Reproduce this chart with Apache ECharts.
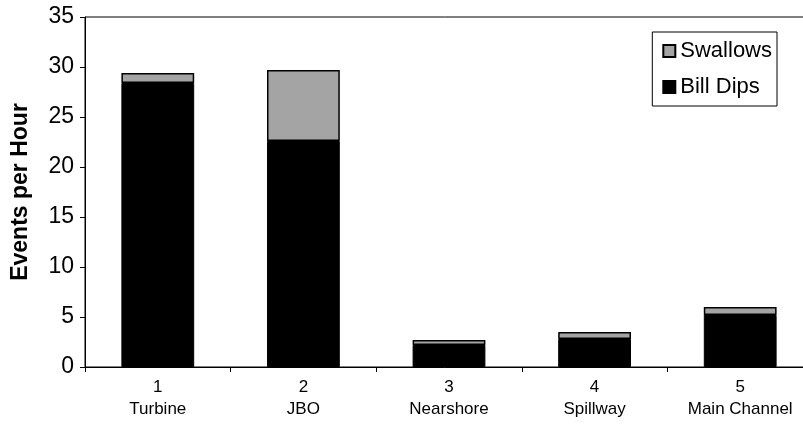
<!DOCTYPE html>
<html>
<head>
<meta charset="utf-8">
<script src="https://cdn.jsdelivr.net/npm/echarts@6/dist/echarts.min.js"></script>
<style>
  html, body { margin: 0; padding: 0; background: #fff; }
  #chart { width: 803px; height: 429px; }
</style>
</head>
<body>
<div id="chart"></div>
<script>
// Feeding events per hour at each site
const siteNumbers = ['1', '2', '3', '4', '5'];
const siteNames = ['Turbine', 'JBO', 'Nearshore', 'Spillway', 'Main Channel'];
const billDips = [28.4, 22.6, 2.2, 2.8, 5.2];
const swallows = [1.0, 7.1, 0.5, 0.7, 0.8];
const yTicks = [0, 5, 10, 15, 20, 25, 30, 35];

const categories = siteNumbers.map((n, i) => n + '\n' + siteNames[i]);

const chart = echarts.init(document.getElementById('chart'), null, { renderer: 'canvas' });

const font = 'Liberation Sans, Arial, sans-serif';

chart.setOption({
  animation: false,
  backgroundColor: '#ffffff',
  // the plot runs slightly past the right edge of the page
  grid: {
    left: 85,
    width: 728,
    top: 17,
    bottom: 62,
    outerBoundsMode: 'none',
    containLabel: false,
    show: true,
    borderColor: '#000',
    borderWidth: 1,
    backgroundColor: 'transparent'
  },
  legend: {
    orient: 'vertical',
    right: 26,
    top: 32,
    padding: [8, 5, 8, 10],
    itemGap: 14,
    itemWidth: 12,
    itemHeight: 12,
    borderColor: '#000',
    borderWidth: 1,
    borderRadius: 0,
    data: ['Swallows', 'Bill Dips'],
    textStyle: { fontFamily: font, fontSize: 22, color: '#000' },
    icon: 'rect'
  },
  xAxis: {
    type: 'category',
    data: categories,
    axisLine: { lineStyle: { color: '#000', width: 1 } },
    axisTick: { show: true, length: 5, lineStyle: { color: '#000' } },
    axisLabel: {
      fontFamily: font,
      fontSize: 17,
      color: '#000',
      lineHeight: 22,
      margin: 9
    }
  },
  yAxis: {
    type: 'value',
    min: 0,
    max: 35,
    interval: 5,
    name: 'Events per Hour',
    nameLocation: 'middle',
    nameGap: 53,
    nameRotate: 90,
    nameTextStyle: { fontFamily: font, fontSize: 23, fontWeight: 'bold', color: '#000' },
    axisLine: { show: true, lineStyle: { color: '#000', width: 1 } },
    axisTick: { show: true, length: 5, lineStyle: { color: '#000' } },
    splitLine: { show: false },
    axisLabel: {
      fontFamily: font,
      fontSize: 23,
      color: '#000',
      margin: 11,
      formatter: v => yTicks.includes(v) ? String(v) : ''
    }
  },
  series: [
    {
      name: 'Bill Dips',
      type: 'bar',
      stack: 'events',
      barWidth: '50%',
      data: billDips,
      itemStyle: { color: '#000000', borderColor: '#000', borderWidth: 1 }
    },
    {
      name: 'Swallows',
      type: 'bar',
      stack: 'events',
      barWidth: '50%',
      data: swallows,
      itemStyle: { color: '#a4a4a4', borderColor: '#000', borderWidth: 1.5 }
    }
  ]
});
</script>
</body>
</html>
